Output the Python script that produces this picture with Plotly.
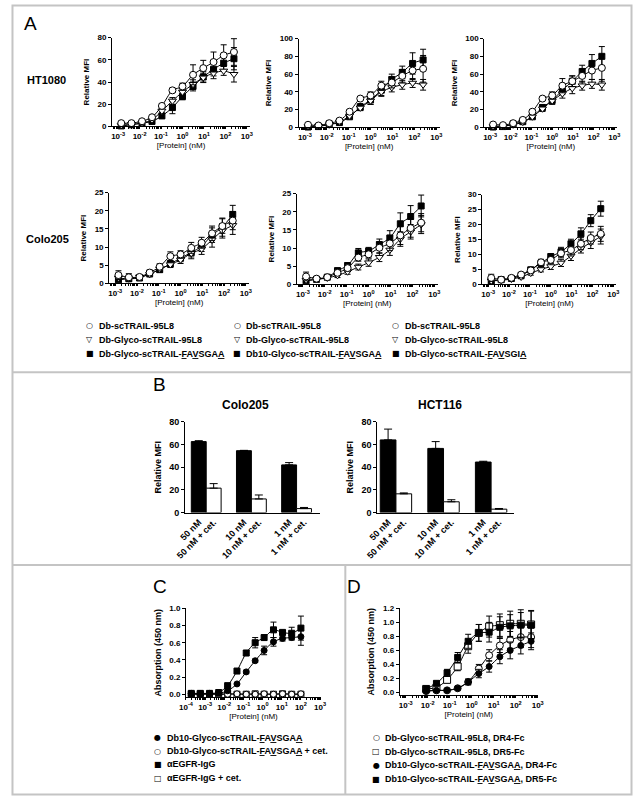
import plotly.graph_objects as go

W, H = 638, 800
FONT = "Liberation Sans, Arial, sans-serif"

# ---------------- data ----------------
# panel A: concentrations (nM), 3-fold dilutions
conc_a = [0.0014, 0.0042, 0.013, 0.038, 0.11, 0.34, 1.0, 3.1, 9.3, 28, 83, 250]

ht_p1_95L8 = [3, 3, 4.7, 8.3, 18.5, 32.5, 36, 46.5, 52.5, 58, 64, 67]
ht_p1_95L8_err = [1, 1, 1, 1.5, 2, 2, 3, 9, 7, 9, 9.5, 12]
ht_p1_glyco = [1, 2, 3, 6, 14, 23, 31, 38, 44, 48, 50, 47]
ht_p1_glyco_err = [0.5, 0.5, 1, 1.5, 2, 3, 3, 4, 4, 5, 4, 7]
ht_p1_fav = [0.5, 1.5, 3, 4.5, 9.5, 17, 27, 36, 44.5, 51.5, 57, 61]
ht_p1_fav_err = [0.5, 0.5, 1, 1.5, 2, 5.5, 3, 4, 5, 6, 6, 10]

ht_p2_95L8 = [3, 2.2, 4.8, 7.7, 17.7, 32.5, 36, 47, 50.5, 58, 64, 66]
ht_p2_95L8_err = [1, 1, 1, 2, 2, 2, 4, 5, 6, 7, 10, 15]
ht_p2_glyco = [1, 1.5, 3, 6, 13, 22, 30, 40, 45, 48, 50, 48]
ht_p2_glyco_err = [0.5, 0.5, 1, 1.5, 2, 3, 4, 5, 5, 5, 5, 6]
ht_p2_fav = [0.5, 1, 4, 5.5, 12, 23, 31, 42, 54, 62, 72, 76]
ht_p2_fav_err = [0.5, 0.5, 1, 1.5, 2, 4, 5, 6, 6, 7, 12, 12]

ht_p3_95L8 = [3.3, 2.6, 4.8, 8.5, 17.7, 32.5, 36, 47, 52, 58, 64, 67]
ht_p3_95L8_err = [1, 1, 1, 2, 2, 2, 4, 8, 6, 7, 10, 15]
ht_p3_glyco = [1, 1.5, 3, 6, 12, 21, 30, 38, 44, 47, 49, 48]
ht_p3_glyco_err = [0.5, 0.5, 1, 1.5, 2, 3, 4, 5, 6, 5, 5, 6]
ht_p3_fav = [0.5, 1, 4, 6.5, 12, 22.5, 30.5, 42, 52, 63, 72, 80]
ht_p3_fav_err = [0.5, 0.5, 1, 1.5, 2, 3, 4, 5, 6, 7, 10, 11]

co_p4_95L8 = [2.3, 1.7, 1.8, 3, 4.6, 7.5, 8, 9.8, 11.2, 13.8, 15.8, 17.3]
co_p4_95L8_err = [1.2, 1, 0.5, 0.7, 0.8, 1.2, 1, 1.5, 1.5, 2, 2, 2.5]
co_p4_glyco = [1.5, 1.3, 1.8, 2.5, 4, 5.2, 6.5, 8.3, 9.5, 12, 14.5, 16]
co_p4_glyco_err = [0.7, 0.6, 0.5, 0.7, 0.8, 0.8, 1, 1.5, 1.5, 2, 2, 2.5]
co_p4_fav = [1, 1.3, 1.5, 2.7, 3.8, 5.4, 7, 8.5, 10.3, 13.3, 15.5, 19]
co_p4_fav_err = [0.5, 0.5, 0.5, 0.6, 0.7, 0.8, 1, 1.2, 1.5, 2, 2.5, 2.5]

co_p5_95L8 = [2.2, 1.6, 2, 3.2, 4.5, 7.4, 8.3, 10.1, 11.3, 13.5, 15.5, 17]
co_p5_95L8_err = [1.2, 0.5, 0.5, 0.7, 0.8, 1, 1, 1.5, 2, 2.5, 2.5, 2.5]
co_p5_glyco = [1.2, 1.4, 1.8, 2.5, 3.5, 4.8, 6, 7.5, 9.5, 12.5, 14.5, 16.5]
co_p5_glyco_err = [0.6, 0.5, 0.5, 0.6, 0.7, 0.8, 1, 1.2, 1.5, 2, 2, 2.5]
co_p5_fav = [1, 1.4, 2, 3.8, 5.2, 8.7, 9.2, 11, 12.8, 16.7, 18.7, 21.6]
co_p5_fav_err = [0.5, 0.5, 0.5, 0.7, 0.8, 1.2, 1, 1.5, 2, 3, 3, 3]

co_p6_95L8 = [2.2, 1.6, 2.2, 3.3, 4.7, 7.4, 8.2, 10.4, 11.5, 13.6, 15.5, 16.9]
co_p6_95L8_err = [1.2, 0.5, 0.5, 0.7, 0.8, 1, 1, 1.5, 2, 2, 2, 2.5]
co_p6_glyco = [1.2, 1.4, 1.8, 2.5, 3.8, 5, 6, 7.2, 9.5, 12, 14, 16]
co_p6_glyco_err = [0.6, 0.5, 0.5, 0.6, 0.7, 0.8, 1, 1.2, 1.5, 1.5, 2, 2.5]
co_p6_fav = [1.1, 1.6, 2, 3, 4.9, 7.1, 9.3, 10.9, 13.6, 16.9, 21.3, 25.3]
co_p6_fav_err = [0.5, 0.5, 0.5, 0.6, 0.7, 1.2, 1, 1.5, 1.5, 2, 2, 2.5]

# panel B
b_labels = ["50 nM", "10 nM", "1 nM"]
b_labels_cet = ["50 nM + cet.", "10 nM + cet.", "1 nM + cet."]
colo_b = [62.5, 54.5, 42]
colo_b_err = [0.8, 0.3, 2]
colo_b_cet = [21.5, 12, 3.5]
colo_b_cet_err = [4, 3.5, 1]
hct_b = [64, 56.5, 44.5]
hct_b_err = [9.5, 6, 0.7]
hct_b_cet = [16.5, 9.5, 3]
hct_b_cet_err = [0.8, 1.8, 0.6]

# panel C
conc_c = [0.00019, 0.00056, 0.0017, 0.0051, 0.015, 0.046, 0.14, 0.41, 1.2, 3.7, 11, 33, 100]
c_fav = [0.01, 0.0, 0.01, 0.01, 0.04, 0.12, 0.26, 0.39, 0.51, 0.61, 0.65, 0.66, 0.67]
c_fav_err = [0.01, 0.01, 0.01, 0.01, 0.01, 0.01, 0.02, 0.02, 0.05, 0.05, 0.03, 0.03, 0.1]
c_fav_cet = [0.005, 0.0, 0.005, 0.0, 0.0, 0.005, 0.0, 0.0, 0.005, 0.0, 0.005, 0.0, 0.005]
c_fav_cet_err = [0.005] * 13
c_egfr = [0.01, 0.01, 0.01, 0.02, 0.1, 0.27, 0.48, 0.6, 0.66, 0.75, 0.72, 0.71, 0.77]
c_egfr_err = [0.01, 0.01, 0.01, 0.01, 0.01, 0.01, 0.03, 0.06, 0.03, 0.09, 0.02, 0.07, 0.14]
c_egfr_cet = [0.0, 0.005, 0.0, 0.0, 0.005, 0.0, 0.0, 0.005, 0.0, 0.0, 0.005, 0.0, 0.0]
c_egfr_cet_err = [0.005] * 13

# panel D
conc_d = [0.0085, 0.025, 0.076, 0.23, 0.69, 2.1, 6.2, 19, 56, 170, 500]
d_95_dr4 = [0.02, 0.03, 0.03, 0.06, 0.15, 0.34, 0.53, 0.67, 0.75, 0.79, 0.79]
d_95_dr4_err = [0.01, 0.01, 0.01, 0.02, 0.04, 0.06, 0.08, 0.1, 0.12, 0.15, 0.15]
d_95_dr5 = [0.05, 0.07, 0.18, 0.37, 0.66, 0.85, 0.94, 0.96, 0.98, 0.98, 0.97]
d_95_dr5_err = [0.02, 0.03, 0.04, 0.06, 0.1, 0.12, 0.15, 0.16, 0.18, 0.2, 0.2]
d_fav_dr4 = [0.02, 0.03, 0.03, 0.06, 0.15, 0.27, 0.37, 0.51, 0.6, 0.67, 0.73]
d_fav_dr4_err = [0.01, 0.01, 0.01, 0.02, 0.04, 0.06, 0.08, 0.1, 0.12, 0.12, 0.12]
d_fav_dr5 = [0.05, 0.13, 0.28, 0.5, 0.73, 0.85, 0.86, 0.93, 0.95, 0.96, 0.96]
d_fav_dr5_err = [0.02, 0.03, 0.05, 0.07, 0.1, 0.12, 0.14, 0.15, 0.16, 0.18, 0.2]

FAVSGAA = "<u>F</u>A<u>V</u>SGA<u>A</u>"
FAVSGIA = "<u>F</u>A<u>V</u>SGI<u>A</u>"

# ---------------- helpers ----------------
fig = go.Figure()
layout = {}


def dom_x(a, b):
    return [a / W, b / W]


def dom_y(top, bottom):
    return [1 - bottom / H, 1 - top / H]


def base_axis(**kw):
    d = dict(showline=True, linecolor="black", linewidth=1, ticks="outside", ticklen=3,
             tickwidth=1, tickcolor="black", showgrid=False, zeroline=False,
             tickfont=dict(family=FONT, size=8, color="black", weight="bold"))
    d.update(kw)
    return d


def set_axes(i, xax, yax):
    xk = "xaxis" if i == 1 else f"xaxis{i}"
    yk = "yaxis" if i == 1 else f"yaxis{i}"
    xax["anchor"] = "y" if i == 1 else f"y{i}"
    yax["anchor"] = "x" if i == 1 else f"x{i}"
    layout[xk] = xax
    layout[yk] = yax


def log_xaxis(xpx, lo, hi, d0, d1, title="[Protein] (nM)"):
    tv = [10.0 ** e for e in range(d0, d1 + 1)]
    tt = [f"10<sup>{e}</sup>" for e in range(d0, d1 + 1)]
    mv = [k * 10.0 ** e for e in range(d0 - 1, d1) for k in range(2, 10)]
    return base_axis(type="log", range=[lo, hi], domain=dom_x(*xpx), tickmode="array",
                     tickvals=tv, ticktext=tt, ticklen=2,
                     minor=dict(tickmode="array", tickvals=mv, ticks="outside", ticklen=2,
                                tickcolor="black", showgrid=False),
                     title=dict(text=title, standoff=2,
                                font=dict(family=FONT, size=8, color="black")))


def lin_yaxis(ypx, lo, hi, dtick, title, fmt=None, size=8):
    d = base_axis(range=[lo, hi], domain=dom_y(*ypx), tickmode="linear", tick0=0, dtick=dtick,
                  title=dict(text=title, standoff=6,
                             font=dict(family=FONT, size=size, color="black", weight="bold")))
    if fmt:
        d["tickformat"] = fmt
    return d


def add_series(i, x, y, err, symbol, fill, size=7, line=True):
    xr = "x" if i == 1 else f"x{i}"
    yr = "y" if i == 1 else f"y{i}"
    fig.add_trace(go.Scatter(
        x=x, y=y, xaxis=xr, yaxis=yr,
        mode="lines+markers" if line else "markers",
        line=dict(color="black", width=1, shape="spline", smoothing=0.8),
        marker=dict(symbol=symbol, size=size, color=fill, line=dict(color="black", width=1)),
        error_y=dict(type="data", array=err, visible=True, color="black", thickness=1, width=3),
        cliponaxis=False, showlegend=False, hoverinfo="skip"))


# ---------------- panel A ----------------
a_panels = [
    (1, (103, 245), (33, 123), 80, 20, ht_p1_95L8, ht_p1_95L8_err, ht_p1_glyco, ht_p1_glyco_err, ht_p1_fav, ht_p1_fav_err),
    (2, (295, 440), (34, 124), 100, 20, ht_p2_95L8, ht_p2_95L8_err, ht_p2_glyco, ht_p2_glyco_err, ht_p2_fav, ht_p2_fav_err),
    (3, (486, 623), (34, 124), 100, 20, ht_p3_95L8, ht_p3_95L8_err, ht_p3_glyco, ht_p3_glyco_err, ht_p3_fav, ht_p3_fav_err),
    (4, (100, 244), (190, 282), 25, 5, co_p4_95L8, co_p4_95L8_err, co_p4_glyco, co_p4_glyco_err, co_p4_fav, co_p4_fav_err),
    (5, (293, 438), (191, 283), 25, 5, co_p5_95L8, co_p5_95L8_err, co_p5_glyco, co_p5_glyco_err, co_p5_fav, co_p5_fav_err),
    (6, (484, 622), (192, 283), 30, 5, co_p6_95L8, co_p6_95L8_err, co_p6_glyco, co_p6_glyco_err, co_p6_fav, co_p6_fav_err),
]
for (i, xpx, ypx, ymax, dt, s95, e95, sgl, egl, sfav, efav) in a_panels:
    set_axes(i, log_xaxis(xpx, -3.28, 3.15, -3, 3), lin_yaxis(ypx, 0, ymax, dt, "Relative MFI"))
    add_series(i, conc_a, sfav, efav, "square", "black", size=6)
    add_series(i, conc_a, sgl, egl, "triangle-down", "white", size=7)
    add_series(i, conc_a, s95, e95, "circle", "white", size=7)

# ---------------- panel B ----------------
bw = 0.33
for i, xpx, rng, blk, blk_e, wht, wht_e in [
        (7, (178, 317), [-0.47, 2.52], colo_b, colo_b_err, colo_b_cet, colo_b_cet_err),
        (8, (376, 517), [-0.39, 2.49], hct_b, hct_b_err, hct_b_cet, hct_b_cet_err)]:
    pos = list(range(len(b_labels)))
    tv, tt = [], []
    for p, l1, l2 in zip(pos, b_labels, b_labels_cet):
        tv += [p - bw / 2, p + bw / 2]
        tt += [l1, l2]
    xax = base_axis(range=rng, domain=dom_x(*xpx), tickmode="array", tickvals=tv, ticktext=tt,
                    tickangle=-45, ticks="", tickfont=dict(family=FONT, size=9, color="black", weight="bold"))
    yax = lin_yaxis((422, 514), 0, 80, 20, "Relative MFI", size=9)
    yax["tickfont"] = dict(family=FONT, size=9, color="black", weight="bold")
    set_axes(i, xax, yax)
    for vals, errs, col, off in [(blk, blk_e, "black", -bw), (wht, wht_e, "white", 0)]:
        fig.add_trace(go.Bar(
            x=pos, y=vals, width=bw, offset=off, xaxis=f"x{i}", yaxis=f"y{i}",
            marker=dict(color=col, line=dict(color="black", width=1)),
            error_y=dict(type="data", array=errs, arrayminus=[0] * len(errs), symmetric=False,
                         color="black", thickness=1, width=4),
            showlegend=False, hoverinfo="skip"))

# ---------------- panel C ----------------
set_axes(9, log_xaxis((179, 318), -4.0, 3.05, -4, 3),
         lin_yaxis((611, 701), -0.035, 1.0, 0.2, "Absorption (450 nm)", fmt=".1f", size=9))
add_series(9, conc_c, c_egfr_cet, c_egfr_cet_err, "square", "white", size=6)
add_series(9, conc_c, c_fav_cet, c_fav_cet_err, "circle", "white", size=6)
add_series(9, conc_c, c_egfr, c_egfr_err, "square", "black", size=6)
add_series(9, conc_c, c_fav, c_fav_err, "circle", "black", size=6)

# ---------------- panel D ----------------
set_axes(10, log_xaxis((399, 541), -3.27, 3.0, -3, 3),
         lin_yaxis((611, 699), -0.04, 1.2, 0.2, "Absorption (450 nm)", fmt=".1f", size=9))
add_series(10, conc_d, d_95_dr4, d_95_dr4_err, "circle", "white", size=7)
add_series(10, conc_d, d_95_dr5, d_95_dr5_err, "square", "white", size=7)
add_series(10, conc_d, d_fav_dr4, d_fav_dr4_err, "circle", "black", size=6)
add_series(10, conc_d, d_fav_dr5, d_fav_dr5_err, "square", "black", size=6)

# ---------------- annotations ----------------
ann = []


def text(px, py, s, size=9, bold=True, xanchor="left", family=FONT):
    ann.append(dict(x=px / W, y=1 - py / H, xref="paper", yref="paper", text=s, showarrow=False,
                    xanchor=xanchor, yanchor="middle",
                    font=dict(family=family, size=size, color="black",
                              weight="bold" if bold else "normal")))


def legend_rows(mx, ys, glyphs, labels):
    for y, g, lab in zip(ys, glyphs, labels):
        text(mx, y, g, size=8, bold=False, xanchor="center", family="DejaVu Sans")
        text(mx + 7, y, lab)


text(19, 19, "A", size=19, bold=False, xanchor="center")
text(152, 384, "B", size=19, bold=False, xanchor="center")
text(152, 589, "C", size=19, bold=False, xanchor="center")
text(352, 589, "D", size=19, bold=False, xanchor="center")
text(36, 76, "HT1080", size=11, xanchor="center")
text(37, 237, "Colo205", size=11, xanchor="center")
text(240, 405, "Colo205", size=12, xanchor="center")
text(440, 405, "HCT116", size=12, xanchor="center")

a_rows = [325, 339, 353]
legend_rows(80, a_rows, ["○", "▽", "■"],
            ["Db-scTRAIL-95L8", "Db-Glyco-scTRAIL-95L8", "Db-Glyco-scTRAIL-" + FAVSGAA])
legend_rows(232, a_rows, ["○", "▽", "■"],
            ["Db-scTRAIL-95L8", "Db-Glyco-scTRAIL-95L8", "Db10-Glyco-scTRAIL-" + FAVSGAA])
legend_rows(395, a_rows, ["○", "▽", "■"],
            ["Db-scTRAIL-95L8", "Db-Glyco-scTRAIL-95L8", "Db-Glyco-scTRAIL-" + FAVSGIA])
legend_rows(150, [742, 755.5, 769, 783], ["●", "○", "■", "□"],
            ["Db10-Glyco-scTRAIL-" + FAVSGAA, "Db10-Glyco-scTRAIL-" + FAVSGAA + " + cet.",
             "αEGFR-IgG", "αEGFR-IgG + cet."])
legend_rows(375, [742, 756, 770, 784], ["○", "□", "●", "■"],
            ["Db-Glyco-scTRAIL-95L8, DR4-Fc", "Db-Glyco-scTRAIL-95L8, DR5-Fc",
             "Db10-Glyco-scTRAIL-" + FAVSGAA + ", DR4-Fc", "Db10-Glyco-scTRAIL-" + FAVSGAA + ", DR5-Fc"])

# panel borders
border = dict(color="#c4c4c4", width=2)
shapes = [
    dict(type="rect", xref="paper", yref="paper", x0=0.5 / W, x1=1 - 0.5 / W, y0=0.5 / H, y1=1 - 0.5 / H, line=border),
    dict(type="line", xref="paper", yref="paper", x0=0, x1=1, y0=1 - 372 / H, y1=1 - 372 / H, line=border),
    dict(type="line", xref="paper", yref="paper", x0=0, x1=1, y0=1 - 567 / H, y1=1 - 567 / H, line=border),
    dict(type="line", xref="paper", yref="paper", x0=343 / W, x1=343 / W, y0=0, y1=1 - 567 / H, line=border),
]

fig.update_layout(
    width=W, height=H, margin=dict(l=0, r=0, t=0, b=0),
    paper_bgcolor="white", plot_bgcolor="rgba(0,0,0,0)",
    font=dict(family=FONT, color="black"), showlegend=False, barmode="overlay",
    annotations=ann, shapes=shapes, **layout)

# page body has a default margin and may get scrollbars; drop both so the figure fills the window
page_js = ("document.body.style.margin='0px';"
           "document.body.style.overflow='hidden';"
           "document.documentElement.style.overflow='hidden';")
fig.write_html("out.html", post_script=page_js, config={"displayModeBar": False})
